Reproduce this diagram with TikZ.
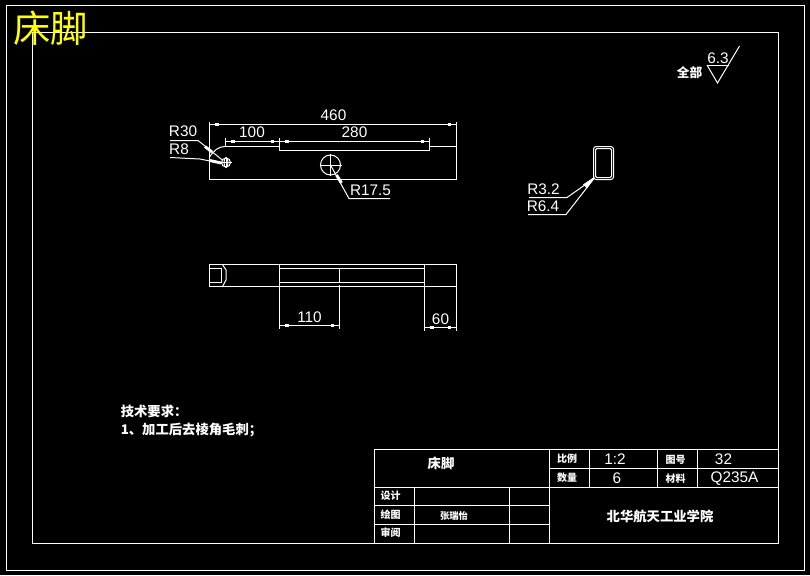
\documentclass[tikz,border=0pt]{standalone}
\usepackage{fontspec}
\setmainfont{Liberation Sans}
\newfontfamily\cjk{Noto Sans CJK SC}
\definecolor{titleyellow}{rgb}{1,1,0}
\tikzset{
  part/.style={draw=white, line width=0.75pt},
  dimblob/.style={draw=white, line width=2.2pt},
  tipblob/.style={fill=white, draw=white, line width=0.4pt},
  dimtext/.style={color=white, inner sep=0pt, font=\fontsize{11.5}{12}\selectfont},
  cjktext/.style={color=white, inner sep=0pt, font=\cjk\bfseries\fontsize{7.5}{9}\selectfont},
  cjkmid/.style={cjktext, font=\cjk\bfseries\fontsize{10}{11}\selectfont},
}
% horizontal dimension line: x1, x2, y
\newcommand{\hdim}[3]{
  \draw[part] (#1,#3) -- (#2,#3);
  \draw[dimblob] (#1+5.5,#3) -- (#1+9,#3);
  \draw[dimblob] (#2-9,#3) -- (#2-5.5,#3);
}
\begin{document}
\begin{tikzpicture}[x=0.75pt, y=-0.75pt]

\useasboundingbox[fill=black] (0,0) rectangle (810,575);

% frames
\draw[part] (6.5,5.5) rectangle (804.5,570);
\draw[part] (32.5,32.5) rectangle (778.5,543.5);
\node[color=titleyellow, inner sep=0pt, font=\cjk\fontsize{28}{29}\selectfont] (sheetname) at (50.5,28.5) {床脚};

% finish mark
\node[cjktext, font=\cjk\bfseries\fontsize{9.5}{10}\selectfont] (finishall) at (689.5,73) {全部};
\node[dimtext] (finishval) at (718,58) {6.3};
\draw[part] (707,65) -- (729,65);
\draw[part] (707,65) -- (717.5,83) -- (739.5,46);

% top view
\draw[part] (225,146.5) -- (279.5,146.5) -- (279.5,150.5) -- (429.5,150.5) -- (429.5,146.5) -- (456.5,146.5)
  -- (456.5,179.5) -- (209.5,179.5) -- (209.5,157);
\draw[part] (209.5,157) .. controls (214,150) and (219,146.5) .. (225,146.5);
\draw[part] (209.5,157) -- (209.5,121.5);
\draw[part] (456.5,146.5) -- (456.5,121.5);
\draw[part] (225.5,138) -- (225.5,146.5);
\draw[part] (279.5,138) -- (279.5,146.5);
\draw[part] (429.5,138) -- (429.5,146.5);
\hdim{209.5}{456.5}{124.5}
\hdim{225.5}{279.5}{141.5}
\hdim{279.5}{429.5}{141.5}
\node[dimtext] (dimall) at (333.5,115.5) {460};
\node[dimtext] (dimhole) at (252,132.5) {100};
\node[dimtext] (dimslot) at (354.5,132.5) {280};

% holes
\draw[part] (226,162.5) circle (4.5);
\draw[part] (226,162.5) ellipse (2 and 5);
\draw[part] (220.5,162.5) -- (231.5,162.5);
\draw[part] (226,157) -- (226,168);
\draw[part] (330.5,165) circle (10);
\draw[part] (319.5,165) -- (341.5,165);
\draw[part] (330.5,154) -- (330.5,176);

% leaders
\draw[part] (170,140.5) -- (198,140.5) -- (223,160.5);
\draw[dimblob] (205,146.5) -- (212,152);
\draw[part] (170,157.5) -- (200,159) -- (222,163.5);
\draw[dimblob] (210,160.5) -- (221,163);
\draw[part] (330.5,165) -- (349,198.5) -- (390,198.5);
\draw[dimblob] (336.5,175) -- (341.5,183);
\node[dimtext] (labelbig) at (183,131.5) {R30};
\node[dimtext] (labelsmall) at (179,149) {R8};
\node[dimtext] (labelcenter) at (370.5,190) {R17.5};

% section
\draw[part, rounded corners=2pt] (593.5,146.5) rectangle (613.5,179.5);
\draw[part, rounded corners=1pt] (595.5,148.5) rectangle (611.5,177.5);
\draw[part] (529,197.5) -- (567,197.5) -- (594,178.5);
\draw[part] (528,214.5) -- (566,214.5) -- (594,178.5);
\fill[tipblob] (594,177.5) -- (583.5,184.5) -- (587,188) -- cycle;
\node[dimtext] (labelinner) at (543.5,189) {R3.2};
\node[dimtext] (labelouter) at (543,206.5) {R6.4};

% front view
\draw[part] (209.5,264.5) rectangle (456.5,286.5);
\draw[part] (209.5,268.5) -- (221.5,268.5) -- (221.5,282.5) -- (209.5,282.5);
\draw[part] (222.5,264.5) -- (226,270) -- (226,280) -- (222.5,286.5);
\draw[part] (279.5,268.5) -- (424.5,268.5);
\draw[part] (279.5,282.5) -- (424.5,282.5);
\draw[part] (279.5,264.5) -- (279.5,328.5);
\draw[part] (424.5,264.5) -- (424.5,330.5);
\draw[part] (456.5,286.5) -- (456.5,330.5);
\draw[part] (339.5,268.5) -- (339.5,282.5);
\draw[part] (339.5,285) -- (339.5,328.5);
\hdim{279.5}{339.5}{325.5}
\hdim{424.5}{456.5}{327.5}
\node[dimtext] (dimleft) at (309.5,317.5) {110};
\node[dimtext] (dimright) at (440.5,319.5) {60};

% notes
\node[cjktext, anchor=west, font=\cjk\bfseries\fontsize{10}{11}\selectfont] (noteshead) at (120.5,411.5) {技术要求：};
\node[cjktext, anchor=west, font=\cjk\bfseries\fontsize{10}{11}\selectfont] (notesline) at (120.5,430) {1、加工后去棱角毛刺；};

% title block
\draw[part] (374.5,543.5) -- (374.5,449.5) -- (778.5,449.5);
\draw[part] (374.5,487.5) -- (778.5,487.5);
\draw[part] (549.5,468.5) -- (778.5,468.5);
\draw[part] (374.5,505.5) -- (549.5,505.5);
\draw[part] (374.5,524.5) -- (549.5,524.5);
\draw[part] (549.5,449.5) -- (549.5,543.5);
\foreach \colx in {589.5,657.5,697.5}
  \draw[part] (\colx,449.5) -- (\colx,487.5);
\foreach \colx in {414.5,509.5}
  \draw[part] (\colx,487.5) -- (\colx,543.5);
\node[cjkmid] (partname) at (441,463) {床脚};
\node[cjktext] (ratiolabel) at (567,458.5) {比例};
\node[dimtext] (ratioval) at (615,459) {1:2};
\node[cjktext] (drawinglabel) at (675.5,459.5) {图号};
\node[dimtext] (drawingval) at (723.5,459) {32};
\node[cjktext] (countlabel) at (567,478) {数量};
\node[dimtext] (countval) at (617,478) {6};
\node[cjktext] (stufflabel) at (675.5,478.5) {材料};
\node[dimtext] (stuffval) at (734.5,478.5) {Q235A};
\node[cjktext] (designlabel) at (390.5,496) {设计};
\node[cjktext] (drawnlabel) at (390.5,514.5) {绘图};
\node[cjktext] (checklabel) at (390.5,533) {审阅};
\node[cjktext, font=\cjk\bfseries\fontsize{7}{9}\selectfont] (drawnname) at (454,516) {张瑞怡};
\node[cjkmid] (school) at (660,516.5) {北华航天工业学院};

\end{tikzpicture}
\end{document}
